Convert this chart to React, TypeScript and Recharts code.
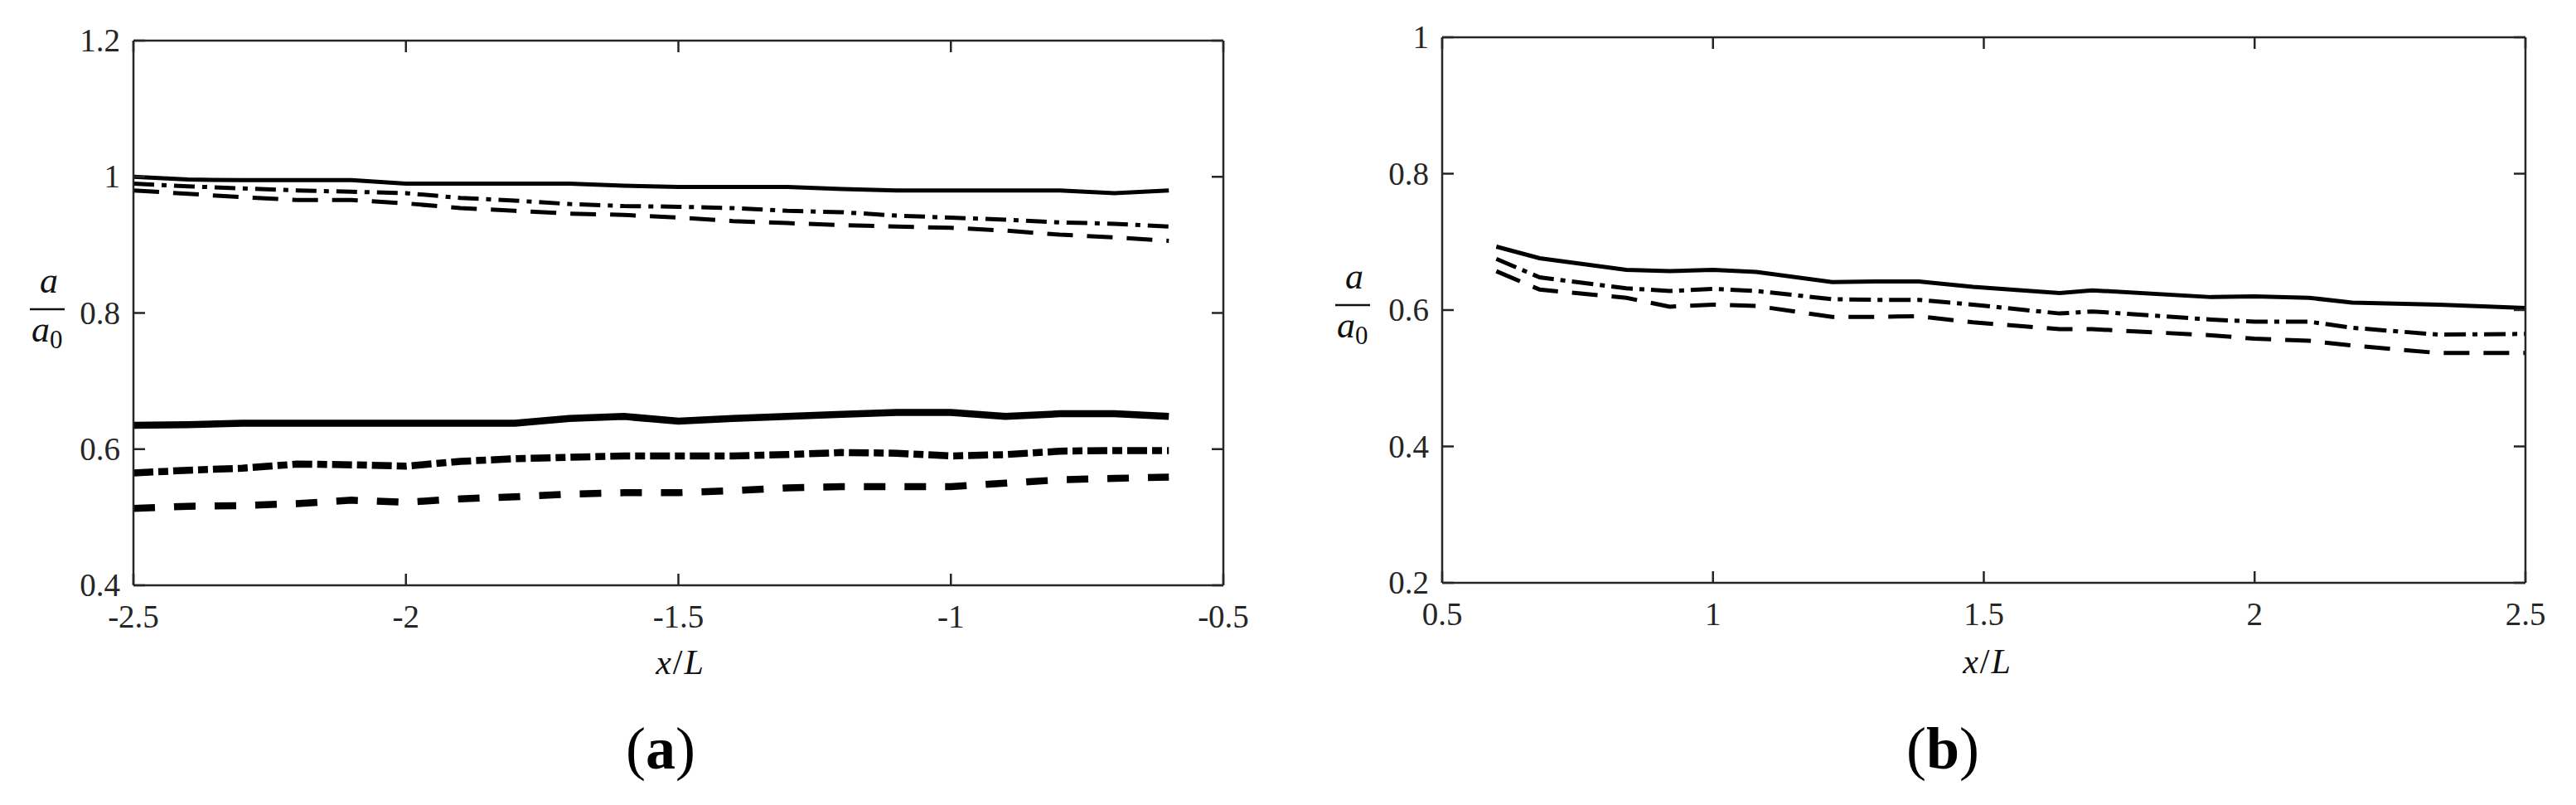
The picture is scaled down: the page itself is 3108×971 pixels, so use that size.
import { LineChart, Line, XAxis, YAxis } from 'recharts';

// panel (a): upstream side, x/L from -2.5 to -0.6
const xUp = [-2.5, -2.4, -2.3, -2.2, -2.1, -2.0, -1.9, -1.8, -1.7, -1.6, -1.5, -1.4, -1.3, -1.2, -1.1, -1.0, -0.9, -0.8, -0.7, -0.6];
const upSolidThin = [1.0, 0.996, 0.995, 0.995, 0.995, 0.99, 0.99, 0.99, 0.99, 0.987, 0.985, 0.985, 0.985, 0.982, 0.98, 0.98, 0.98, 0.98, 0.976, 0.98];
const upDashDotThin = [0.99, 0.986, 0.983, 0.98, 0.978, 0.976, 0.969, 0.965, 0.96, 0.957, 0.956, 0.954, 0.95, 0.948, 0.943, 0.94, 0.937, 0.933, 0.931, 0.927];
const upDashedThin = [0.98, 0.975, 0.97, 0.966, 0.966, 0.961, 0.954, 0.95, 0.946, 0.944, 0.94, 0.935, 0.932, 0.929, 0.927, 0.925, 0.921, 0.915, 0.911, 0.906];
const upSolidThick = [0.635, 0.636, 0.638, 0.638, 0.638, 0.638, 0.638, 0.638, 0.645, 0.648, 0.641, 0.645, 0.648, 0.651, 0.654, 0.654, 0.648, 0.652, 0.652, 0.648];
const upDashDotThick = [0.565, 0.569, 0.572, 0.578, 0.577, 0.575, 0.582, 0.586, 0.588, 0.59, 0.59, 0.59, 0.592, 0.595, 0.594, 0.59, 0.592, 0.597, 0.598, 0.598];
const upDashedThick = [0.513, 0.516, 0.517, 0.52, 0.525, 0.522, 0.527, 0.53, 0.534, 0.536, 0.536, 0.539, 0.543, 0.545, 0.545, 0.545, 0.55, 0.555, 0.557, 0.559];

// panel (b): downstream side, x/L from 0.6 to 2.5
const xDown = [0.6, 0.68, 0.84, 0.92, 1.0, 1.08, 1.22, 1.3, 1.38, 1.48, 1.64, 1.7, 1.92, 2.0, 2.1, 2.18, 2.34, 2.5];
const downSolid = [0.693, 0.676, 0.659, 0.657, 0.659, 0.656, 0.641, 0.642, 0.642, 0.634, 0.625, 0.629, 0.619, 0.62, 0.618, 0.611, 0.608, 0.603];
const downDashDot = [0.675, 0.648, 0.632, 0.628, 0.631, 0.628, 0.616, 0.615, 0.615, 0.608, 0.595, 0.598, 0.586, 0.583, 0.583, 0.574, 0.564, 0.565];
const downDashed = [0.657, 0.63, 0.618, 0.605, 0.608, 0.606, 0.59, 0.59, 0.591, 0.582, 0.572, 0.572, 0.563, 0.558, 0.555, 0.548, 0.537, 0.537];

const xTicksA = [-2.5, -2, -1.5, -1, -0.5];
const yTicksA = [0.4, 0.6, 0.8, 1, 1.2];
const xTicksB = [0.5, 1, 1.5, 2, 2.5];
const yTicksB = [0.2, 0.4, 0.6, 0.8, 1];

const FONT = '"Liberation Serif", "DejaVu Serif", serif';
const AXIS = '#262626';
const TICK_LEN = 14;

const dataA = xUp.map((x, i) => ({
  x,
  s1: upSolidThin[i],
  s2: upDashDotThin[i],
  s3: upDashedThin[i],
  t1: upSolidThick[i],
  t2: upDashDotThick[i],
  t3: upDashedThick[i],
}));

const dataB = xDown.map((x, i) => ({
  x,
  s1: downSolid[i],
  s2: downDashDot[i],
  s3: downDashed[i],
}));

const fmt = (v: number) => String(v);

// tick renderers: inward tick marks + labels, MATLAB style
function BottomTick(props: any) {
  const { x, y, payload } = props;
  return (
    <g>
      <line x1={x} x2={x} y1={y} y2={y - TICK_LEN} stroke={AXIS} strokeWidth={2.5} />
      <text x={x} y={y + 51} textAnchor="middle" fontFamily={FONT} fontSize={39} fill={AXIS}>
        {fmt(payload.value)}
      </text>
    </g>
  );
}

function TopTick(props: any) {
  const { x, y } = props;
  return <line x1={x} x2={x} y1={y} y2={y + TICK_LEN} stroke={AXIS} strokeWidth={2.5} />;
}

function LeftTick(props: any) {
  const { x, y, payload } = props;
  return (
    <g>
      <line x1={x} x2={x + TICK_LEN} y1={y} y2={y} stroke={AXIS} strokeWidth={2.5} />
      <text x={x - 16} y={y + 13} textAnchor="end" fontFamily={FONT} fontSize={39} fill={AXIS}>
        {fmt(payload.value)}
      </text>
    </g>
  );
}

function RightTick(props: any) {
  const { x, y } = props;
  return <line x1={x} x2={x - TICK_LEN} y1={y} y2={y} stroke={AXIS} strokeWidth={2.5} />;
}

interface Box { left: number; top: number; right: number; bottom: number }

function Frame({ xDomain, yDomain, xTicks, yTicks }: { xDomain: number[]; yDomain: number[]; xTicks: number[]; yTicks: number[] }) {
  const line = { stroke: AXIS, strokeWidth: 2.5 };
  return [
    <XAxis key="xb" xAxisId="b" dataKey="x" type="number" domain={xDomain} ticks={xTicks} interval={0}
      allowDataOverflow height={1} tickSize={0} tickMargin={0} tickLine={false} axisLine={line} tick={<BottomTick />} />,
    <XAxis key="xt" xAxisId="t" orientation="top" dataKey="x" type="number" domain={xDomain} ticks={xTicks} interval={0}
      allowDataOverflow height={1} tickSize={0} tickMargin={0} tickLine={false} axisLine={line} tick={<TopTick />} />,
    <YAxis key="yl" yAxisId="l" type="number" domain={yDomain} ticks={yTicks} interval={0}
      allowDataOverflow width={1} tickSize={0} tickMargin={0} tickLine={false} axisLine={line} tick={<LeftTick />} />,
    <YAxis key="yr" yAxisId="r" orientation="right" type="number" domain={yDomain} ticks={yTicks} interval={0}
      allowDataOverflow width={1} tickSize={0} tickMargin={0} tickLine={false} axisLine={line} tick={<RightTick />} />,
  ];
}

function Fraction({ cx, by }: { cx: number; by: number }) {
  return (
    <g fontFamily={FONT} fill="#111">
      <text x={cx + 2} y={by - 20} textAnchor="middle" fontSize={44} fontStyle="italic">a</text>
      <line x1={cx - 21} x2={cx + 21} y1={by} y2={by} stroke="#111" strokeWidth={2.5} />
      <text x={cx - 19} y={by + 39} fontSize={44} fontStyle="italic">
        a<tspan fontStyle="normal" fontSize={31} dy={8}>0</tspan>
      </text>
    </g>
  );
}

function XLabel({ cx, y }: { cx: number; y: number }) {
  return (
    <text x={cx} y={y} textAnchor="middle" fontFamily={FONT} fontSize={42} fill="#111">
      <tspan fontStyle="italic">x</tspan>
      <tspan dx={2}>/</tspan>
      <tspan fontStyle="italic" dx={2}>L</tspan>
    </text>
  );
}

function Caption({ cx, y, letter }: { cx: number; y: number; letter: string }) {
  return (
    <text x={cx} y={y} textAnchor="middle" fontFamily={FONT} fontSize={72} fill="#000">
      (<tspan fontWeight="bold">{letter}</tspan>)
    </text>
  );
}

export default function App() {
  const boxA: Box = { left: 161, top: 49, right: 1476, bottom: 706 };
  const boxB: Box = { left: 1740, top: 45, right: 3047, bottom: 703 };
  const wA = 1560;
  const offB = 1600;
  const wB = 1508;
  const H = 971;

  return (
    <div style={{ position: 'absolute', left: 0, top: 0, width: 3108, height: H, background: '#fff', overflow: 'hidden' }}>
      <div style={{ position: 'absolute', left: 0, top: 0 }}>
        <LineChart width={wA} height={H} data={dataA}
          margin={{ top: boxA.top - 1, left: boxA.left - 1, right: wA - boxA.right - 1, bottom: H - boxA.bottom - 1 }}>
          {Frame({ xDomain: [-2.5, -0.5], yDomain: [0.4, 1.2], xTicks: xTicksA, yTicks: yTicksA })}
          <Line xAxisId="b" yAxisId="l" dataKey="s1" stroke="#000" strokeWidth={5} dot={false} isAnimationActive={false} />
          <Line xAxisId="b" yAxisId="l" dataKey="s2" stroke="#000" strokeWidth={5} strokeDasharray="25 9 6 9" dot={false} isAnimationActive={false} />
          <Line xAxisId="b" yAxisId="l" dataKey="s3" stroke="#000" strokeWidth={5} strokeDasharray="31 17" dot={false} isAnimationActive={false} />
          <Line xAxisId="b" yAxisId="l" dataKey="t1" stroke="#000" strokeWidth={8.5} dot={false} isAnimationActive={false} />
          <Line xAxisId="b" yAxisId="l" dataKey="t2" stroke="#000" strokeWidth={8.5} strokeDasharray="24 6 12 6" dot={false} isAnimationActive={false} />
          <Line xAxisId="b" yAxisId="l" dataKey="t3" stroke="#000" strokeWidth={8.5} strokeDasharray="26 23" dot={false} isAnimationActive={false} />
        </LineChart>
      </div>
      <div style={{ position: 'absolute', left: offB, top: 0 }}>
        <LineChart width={wB} height={H} data={dataB}
          margin={{ top: boxB.top - 1, left: boxB.left - offB - 1, right: wB - (boxB.right - offB) - 1, bottom: H - boxB.bottom - 1 }}>
          {Frame({ xDomain: [0.5, 2.5], yDomain: [0.2, 1], xTicks: xTicksB, yTicks: yTicksB })}
          <Line xAxisId="b" yAxisId="l" dataKey="s1" stroke="#000" strokeWidth={5} dot={false} isAnimationActive={false} />
          <Line xAxisId="b" yAxisId="l" dataKey="s2" stroke="#000" strokeWidth={5} strokeDasharray="26 8 6 8" dot={false} isAnimationActive={false} />
          <Line xAxisId="b" yAxisId="l" dataKey="s3" stroke="#000" strokeWidth={5} strokeDasharray="31 17" dot={false} isAnimationActive={false} />
        </LineChart>
      </div>
      <svg width={3108} height={H} style={{ position: 'absolute', left: 0, top: 0, pointerEvents: 'none' }}>
        <Fraction cx={57} by={373} />
        <Fraction cx={1632} by={368} />
        <XLabel cx={820} y={813} />
        <XLabel cx={2397} y={812} />
        <Caption cx={797} y={927} letter="a" />
        <Caption cx={2344} y={927} letter="b" />
      </svg>
    </div>
  );
}
